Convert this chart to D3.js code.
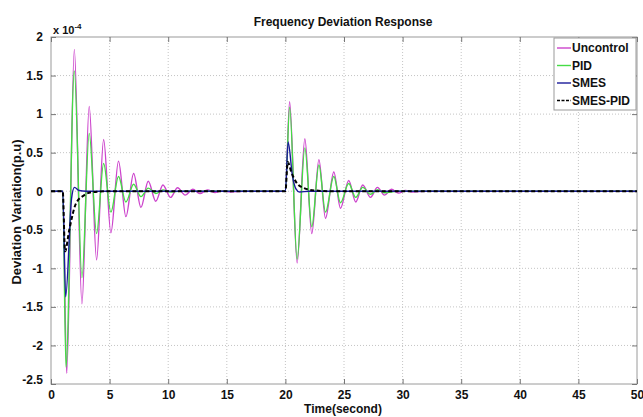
<!DOCTYPE html>
<html><head><meta charset="utf-8">
<script src="https://cdn.jsdelivr.net/npm/d3@7"></script>
<style>
body{margin:0;background:#fff;}
text{font-family:"Liberation Sans",Arial,sans-serif;font-weight:bold;fill:#111;}
</style></head><body>
<svg id="chart" width="643" height="417"></svg>
<script>
// ---- data (values in units of 1e-4 p.u.) ----
const xTicks = [0,5,10,15,20,25,30,35,40,45,50];
const yTicks = [2,1.5,1,0.5,0,-0.5,-1,-1.5,-2,-2.5];
const yTickLabels = ["2","1.5","1","0.5","0","-0.5","-1","-1.5","-2","-2.5"];
const seriesNames = ["Uncontrol","PID","SMES","SMES-PID"];

const uncontrolT = [0,1.0,1.34,1.99,2.64,3.26,3.89,4.49,5.11,5.76,6.39,7.05,7.67,8.3,8.94,9.55,10.2,10.8,11.45,12.1,12.7,13.35,14.0,14.6,15.3,16.5,
  20.0,20.36,21.0,21.66,22.25,22.86,23.42,24.13,24.7,25.4,26.0,26.6,27.26,27.85,28.45,29.05,29.65,30.25,30.85,32.0,50];
const uncontrolV = [0,0,-2.36,1.84,-1.46,1.10,-0.89,0.67,-0.54,0.39,-0.33,0.23,-0.21,0.13,-0.13,0.08,-0.08,0.045,-0.05,0.025,-0.03,0.015,-0.018,0.008,-0.01,0,
  0,1.16,-0.93,0.68,-0.55,0.41,-0.35,0.25,-0.22,0.14,-0.14,0.08,-0.08,0.05,-0.05,0.025,-0.025,0.01,-0.01,0,0];

const pidT = [0,1.0,1.28,1.99,2.64,3.26,3.89,4.49,5.11,5.76,6.39,7.05,7.67,8.3,8.94,9.55,10.2,11.0,
  20.0,20.36,21.0,21.66,22.25,22.86,23.42,24.13,24.7,25.4,26.0,26.6,27.26,27.85,28.45,29.5,50];
const pidV = [0,0,-2.28,1.56,-1.12,0.75,-0.55,0.36,-0.27,0.19,-0.14,0.09,-0.07,0.04,-0.03,0.015,-0.01,0,
  0,1.09,-0.88,0.56,-0.46,0.34,-0.27,0.19,-0.15,0.10,-0.08,0.05,-0.04,0.02,-0.02,0,0];

const smesT = [0,1.0,1.25,1.75,2.0,2.4,3.0,20.0,20.23,20.6,20.9,21.2,22.0,50];
const smesV = [0,0,-1.37,-0.1,0.05,0.01,0,0,0.64,0.2,0.03,-0.01,0,0];

const smesPidT = [0,1.0,1.2,1.56,2.13,2.84,3.6,5.0,20.0,20.2,20.5,21.0,21.6,22.5,24.0,50];
const smesPidV = [0,0,-0.78,-0.5,-0.16,-0.05,-0.01,0,0,0.38,0.25,0.1,0.04,0.01,0,0];

// ---- layout ----
const L=51, R=637, T=37, B=384;
const svg = d3.select("#chart");
const x = d3.scaleLinear().domain([0,50]).range([L,R]);
const y = d3.scaleLinear().domain([-2.5,2]).range([B,T]);

// grid
const grid = svg.append("g").attr("stroke","#b5b5b5").attr("stroke-width",0.8).attr("stroke-dasharray","1,2");
xTicks.slice(1,-1).forEach(t=>grid.append("line").attr("x1",x(t)).attr("x2",x(t)).attr("y1",T).attr("y2",B));
yTicks.slice(1,-1).forEach(t=>grid.append("line").attr("x1",L).attr("x2",R).attr("y1",y(t)).attr("y2",y(t)));

// box
svg.append("rect").attr("x",L).attr("y",T).attr("width",R-L).attr("height",B-T)
  .attr("fill","none").attr("stroke","#9a9a9a").attr("stroke-width",1);

// axes with inward ticks
const xAxB = d3.axisBottom(x).tickValues(xTicks).tickSizeInner(-5).tickSizeOuter(0).tickPadding(6).tickFormat(d3.format("d"));
const gx = svg.append("g").attr("transform",`translate(0,${B})`).call(xAxB);
gx.select(".domain").remove();
gx.selectAll(".tick line").attr("stroke","#777");
gx.selectAll(".tick text").attr("font-size",12).attr("font-family","Liberation Sans, Arial, sans-serif").attr("font-weight","bold").attr("fill","#111");

const xAxT = d3.axisTop(x).tickValues(xTicks).tickSizeInner(-5).tickSizeOuter(0).tickFormat("");
const gxt = svg.append("g").attr("transform",`translate(0,${T})`).call(xAxT);
gxt.select(".domain").remove(); gxt.selectAll(".tick line").attr("stroke","#777");

const yAx = d3.axisLeft(y).tickValues(yTicks).tickSizeInner(-5).tickSizeOuter(0).tickPadding(8)
  .tickFormat((d,i)=>yTickLabels[i]);
const gy = svg.append("g").attr("transform",`translate(${L},0)`).call(yAx);
gy.select(".domain").remove();
gy.selectAll(".tick line").attr("stroke","#777");
gy.selectAll(".tick text").attr("font-size",12).attr("font-family","Liberation Sans, Arial, sans-serif").attr("font-weight","bold").attr("fill","#111");
gy.selectAll(".tick").filter(d=>d===-2.5).select("text").attr("dy","-0.05em");

const yAxR = d3.axisRight(y).tickValues(yTicks).tickSizeInner(-5).tickSizeOuter(0).tickFormat("");
const gyr = svg.append("g").attr("transform",`translate(${R},0)`).call(yAxR);
gyr.select(".domain").remove(); gyr.selectAll(".tick line").attr("stroke","#777");

// lines
const line = d3.line().x(d=>x(d[0])).y(d=>y(d[1])).curve(d3.curveMonotoneX);
const zip = (a,b)=>a.map((t,i)=>[t,b[i]]);
const series = [
  {name:seriesNames[0], d:zip(uncontrolT,uncontrolV), color:"#cc44cc", w:1.4, dash:null},
  {name:seriesNames[1], d:zip(pidT,pidV), color:"#45dc45", w:1.4, dash:null},
  {name:seriesNames[2], d:zip(smesT,smesV), color:"#1a1a9a", w:1.4, dash:null},
  {name:seriesNames[3], d:zip(smesPidT,smesPidV), color:"#000", w:2, dash:"4,2.5"}
];
const plot = svg.append("g");
series.forEach(s=>{
  plot.append("path").datum(s.d).attr("d",line).attr("fill","none")
    .attr("stroke",s.color).attr("stroke-width",s.w).attr("stroke-dasharray",s.dash);
});

// titles
svg.append("text").attr("x",343).attr("y",26).attr("text-anchor","middle").attr("font-size",12).text("Frequency Deviation Response");
const ex = svg.append("text").attr("x",53).attr("y",34).attr("font-size",11);
ex.append("tspan").text("x 10");
ex.append("tspan").attr("dy",-5).attr("font-size",8).text("-4");
svg.append("text").attr("x",343).attr("y",413).attr("text-anchor","middle").attr("font-size",12).text("Time(second)");
svg.append("text").attr("transform","translate(21,212) rotate(-90)").attr("text-anchor","middle").attr("font-size",13).text("Deviation Variation(p.u)");

// legend
const lg = svg.append("g");
lg.append("rect").attr("x",554).attr("y",38).attr("width",82).attr("height",72).attr("fill","#fff").attr("stroke","#9a9a9a");
series.forEach((s,i)=>{
  const yy = 48 + i*17.5;
  lg.append("line").attr("x1",557).attr("x2",571).attr("y1",yy).attr("y2",yy)
    .attr("stroke",s.color).attr("stroke-width",s.dash?1.5:1.4).attr("stroke-dasharray",s.dash?"3,1.5":null);
  lg.append("text").attr("x",572).attr("y",yy+4).attr("font-size",12).text(s.name);
});
</script></body></html>
